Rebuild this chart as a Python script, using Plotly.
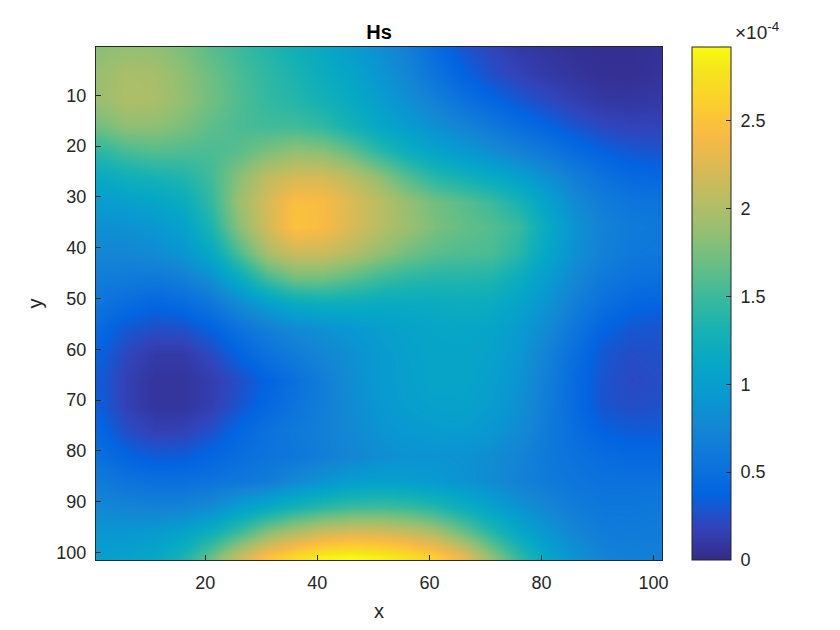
import plotly.graph_objects as go

# grid positions of the sampled values
X_VALS = [1, 6, 11, 16, 21, 26, 31, 36, 41, 46, 51, 56, 61, 66, 71, 76, 81, 86, 91, 96, 101]
Y_VALS = [1, 6, 11, 16, 21, 26, 31, 36, 41, 46, 51, 56, 61, 66, 71, 76, 81, 86, 91, 96, 101]

# Hs in units of 1e-4, one list per y row
HS_Y1 = [1.82, 1.88, 1.86, 1.76, 1.62, 1.50, 1.38, 1.26, 1.14, 1.00, 0.85, 0.68, 0.46, 0.30, 0.20, 0.12, 0.08, 0.05, 0.04, 0.04, 0.06]
HS_Y6 = [1.90, 1.98, 1.96, 1.84, 1.70, 1.56, 1.44, 1.33, 1.20, 1.08, 0.92, 0.74, 0.54, 0.38, 0.26, 0.18, 0.12, 0.08, 0.05, 0.05, 0.07]
HS_Y11 = [1.90, 2.00, 1.98, 1.86, 1.72, 1.58, 1.46, 1.38, 1.28, 1.15, 1.00, 0.84, 0.68, 0.52, 0.40, 0.30, 0.22, 0.15, 0.10, 0.09, 0.11]
HS_Y16 = [1.72, 1.85, 1.84, 1.76, 1.64, 1.56, 1.52, 1.52, 1.44, 1.28, 1.12, 0.98, 0.84, 0.72, 0.60, 0.48, 0.38, 0.28, 0.21, 0.18, 0.18]
HS_Y21 = [1.42, 1.55, 1.60, 1.58, 1.56, 1.62, 1.76, 1.86, 1.82, 1.65, 1.42, 1.22, 1.06, 0.94, 0.82, 0.70, 0.58, 0.46, 0.36, 0.30, 0.28]
HS_Y26 = [1.15, 1.25, 1.30, 1.36, 1.52, 1.82, 2.08, 2.20, 2.20, 2.05, 1.85, 1.60, 1.40, 1.28, 1.16, 1.02, 0.84, 0.66, 0.52, 0.44, 0.42]
HS_Y31 = [0.98, 1.02, 1.08, 1.18, 1.46, 1.90, 2.20, 2.46, 2.42, 2.24, 2.06, 1.88, 1.72, 1.62, 1.50, 1.32, 1.04, 0.80, 0.64, 0.56, 0.54]
HS_Y36 = [0.84, 0.86, 0.92, 1.04, 1.34, 1.82, 2.18, 2.50, 2.42, 2.22, 2.05, 1.90, 1.76, 1.66, 1.60, 1.48, 1.16, 0.88, 0.70, 0.62, 0.60]
HS_Y41 = [0.74, 0.75, 0.80, 0.90, 1.14, 1.56, 1.96, 2.14, 2.14, 2.02, 1.86, 1.72, 1.62, 1.58, 1.56, 1.40, 1.10, 0.85, 0.68, 0.60, 0.58]
HS_Y46 = [0.65, 0.62, 0.60, 0.66, 0.84, 1.18, 1.52, 1.72, 1.72, 1.62, 1.50, 1.42, 1.38, 1.38, 1.36, 1.20, 0.98, 0.76, 0.60, 0.52, 0.50]
HS_Y51 = [0.55, 0.46, 0.40, 0.44, 0.56, 0.78, 1.00, 1.16, 1.20, 1.20, 1.16, 1.16, 1.18, 1.20, 1.18, 1.06, 0.88, 0.66, 0.50, 0.40, 0.38]
HS_Y56 = [0.44, 0.30, 0.24, 0.26, 0.36, 0.52, 0.66, 0.78, 0.86, 0.92, 1.00, 1.06, 1.10, 1.12, 1.08, 0.97, 0.78, 0.56, 0.38, 0.30, 0.28]
HS_Y61 = [0.36, 0.20, 0.12, 0.12, 0.22, 0.38, 0.52, 0.64, 0.74, 0.85, 0.95, 1.03, 1.08, 1.08, 1.05, 0.92, 0.70, 0.48, 0.30, 0.24, 0.26]
HS_Y66 = [0.32, 0.16, 0.08, 0.08, 0.14, 0.25, 0.38, 0.50, 0.66, 0.82, 0.95, 1.02, 1.08, 1.08, 1.02, 0.88, 0.66, 0.44, 0.28, 0.22, 0.24]
HS_Y71 = [0.34, 0.16, 0.08, 0.08, 0.15, 0.28, 0.42, 0.54, 0.66, 0.80, 0.92, 1.00, 1.04, 1.05, 0.98, 0.85, 0.64, 0.44, 0.28, 0.24, 0.26]
HS_Y76 = [0.40, 0.24, 0.16, 0.17, 0.26, 0.40, 0.52, 0.60, 0.68, 0.78, 0.88, 0.94, 0.98, 0.98, 0.92, 0.80, 0.62, 0.48, 0.36, 0.32, 0.32]
HS_Y81 = [0.50, 0.38, 0.32, 0.33, 0.40, 0.48, 0.54, 0.58, 0.66, 0.74, 0.82, 0.86, 0.88, 0.86, 0.82, 0.72, 0.60, 0.52, 0.46, 0.43, 0.43]
HS_Y86 = [0.62, 0.54, 0.50, 0.50, 0.54, 0.58, 0.64, 0.78, 0.88, 0.98, 1.02, 1.00, 0.95, 0.88, 0.80, 0.70, 0.62, 0.56, 0.52, 0.52, 0.52]
HS_Y91 = [0.76, 0.72, 0.70, 0.72, 0.80, 1.00, 1.15, 1.30, 1.42, 1.50, 1.52, 1.48, 1.38, 1.22, 1.05, 0.88, 0.75, 0.64, 0.58, 0.58, 0.60]
HS_Y96 = [0.90, 0.92, 0.96, 1.05, 1.24, 1.50, 1.80, 2.00, 2.15, 2.22, 2.20, 2.12, 1.96, 1.70, 1.40, 1.12, 0.90, 0.74, 0.64, 0.62, 0.64]
HS_Y101 = [1.02, 1.05, 1.12, 1.32, 1.68, 2.12, 2.48, 2.70, 2.87, 2.92, 2.86, 2.76, 2.60, 2.32, 1.85, 1.45, 1.10, 0.88, 0.72, 0.68, 0.68]

HS = [
    HS_Y1, HS_Y6, HS_Y11, HS_Y16, HS_Y21, HS_Y26, HS_Y31,
    HS_Y36, HS_Y41, HS_Y46, HS_Y51, HS_Y56, HS_Y61, HS_Y66,
    HS_Y71, HS_Y76, HS_Y81, HS_Y86, HS_Y91, HS_Y96, HS_Y101,
]

X_TICKS = [20, 40, 60, 80, 100]
Y_TICKS = [10, 20, 30, 40, 50, 60, 70, 80, 90, 100]
CB_TICKS = [0, 0.5, 1, 1.5, 2, 2.5]
CB_LABELS = ["0", "0.5", "1", "1.5", "2", "2.5"]

PARULA = [
    [0 / 63, "rgb(53,42,135)"],
    [4 / 63, "rgb(50,67,186)"],
    [8 / 63, "rgb(3,99,225)"],
    [12 / 63, "rgb(13,117,220)"],
    [16 / 63, "rgb(20,133,212)"],
    [20 / 63, "rgb(9,152,209)"],
    [24 / 63, "rgb(6,167,198)"],
    [28 / 63, "rgb(21,177,180)"],
    [32 / 63, "rgb(56,185,158)"],
    [36 / 63, "rgb(101,190,134)"],
    [40 / 63, "rgb(146,191,115)"],
    [44 / 63, "rgb(183,189,100)"],
    [48 / 63, "rgb(217,186,86)"],
    [52 / 63, "rgb(248,186,68)"],
    [56 / 63, "rgb(252,206,46)"],
    [60 / 63, "rgb(245,228,29)"],
    [63 / 63, "rgb(249,251,14)"],
]

COR_TEXTO = "#262626"
FONTE = "Liberation Sans"

fig = go.Figure()

fig.add_trace(
    go.Heatmap(
        x=X_VALS,
        y=Y_VALS,
        z=HS,
        zsmooth="best",
        zmin=0,
        zmax=2.92,
        colorscale=PARULA,
        colorbar=dict(
            x=1.053,
            xanchor="left",
            xpad=0,
            y=0.5,
            yanchor="middle",
            ypad=0,
            len=1,
            thickness=39,
            outlinewidth=1,
            outlinecolor=COR_TEXTO,
            ticks="inside",
            ticklen=5,
            tickcolor=COR_TEXTO,
            tickvals=CB_TICKS,
            # no standoff option on a colorbar, a leading nbsp pushes the labels right
            ticktext=["\u00a0" + rotulo for rotulo in CB_LABELS],
            tickfont=dict(family=FONTE, size=18, color=COR_TEXTO),
        ),
    )
)

fig.update_xaxes(
    range=[0.5, 101.5],
    tickvals=X_TICKS,
    ticks="inside",
    ticklen=5,
    tickcolor=COR_TEXTO,
    ticklabelstandoff=6,
    showgrid=False,
    zeroline=False,
    showline=True,
    mirror=True,
    linecolor=COR_TEXTO,
    linewidth=1,
    tickfont=dict(family=FONTE, size=18, color=COR_TEXTO),
    title=dict(text="x", font=dict(family=FONTE, size=20, color=COR_TEXTO), standoff=12),
)

fig.update_yaxes(
    range=[101.5, 0.5],
    tickvals=Y_TICKS,
    ticks="inside",
    ticklen=5,
    tickcolor=COR_TEXTO,
    ticklabelstandoff=5,
    showgrid=False,
    zeroline=False,
    showline=True,
    mirror=True,
    linecolor=COR_TEXTO,
    linewidth=1,
    tickfont=dict(family=FONTE, size=18, color=COR_TEXTO),
    title=dict(text="y", font=dict(family=FONTE, size=20, color=COR_TEXTO), standoff=8),
)

fig.add_annotation(
    x=1.1254,
    y=1.0,
    xref="paper",
    yref="paper",
    xanchor="left",
    yanchor="bottom",
    yshift=2,
    showarrow=False,
    text="×10<sup>-4</sup>",
    font=dict(family=FONTE, size=19, color=COR_TEXTO),
)

# page has an 8px body margin, so the figure is a bit smaller than the window
fig.update_layout(
    width=832,
    height=622,
    margin=dict(l=88, r=178, t=39, b=70),
    paper_bgcolor="white",
    plot_bgcolor="white",
    title=dict(
        text="<b>Hs</b>",
        x=0.4459,
        xanchor="center",
        y=0.9614,
        yanchor="middle",
        font=dict(family=FONTE, size=20, color="black"),
    ),
)

fig.write_html("out.html")
